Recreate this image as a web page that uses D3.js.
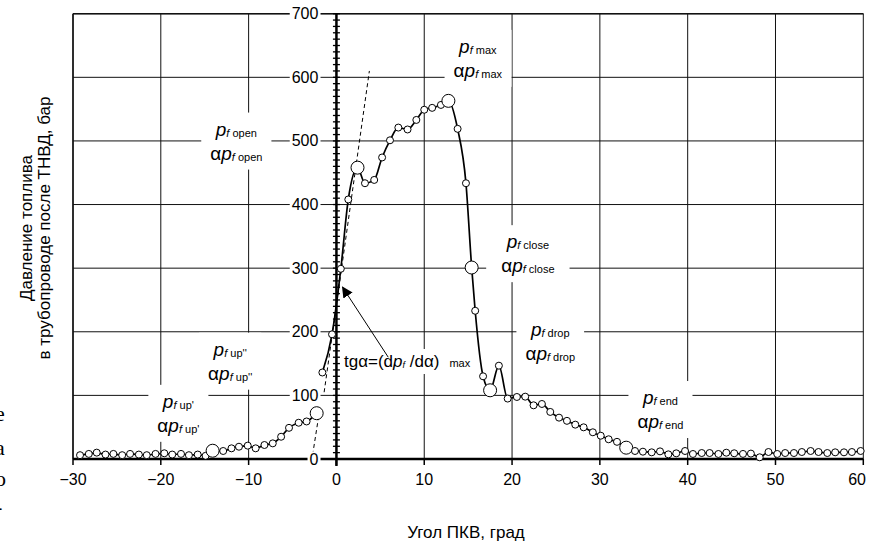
<!DOCTYPE html>
<html>
<head>
<meta charset="utf-8">
<script src="https://cdn.jsdelivr.net/npm/d3@7"></script>
<style>
  body { margin: 0; background: #fff; }
  svg { display: block; font-family: "Liberation Sans", Arial, sans-serif; }
</style>
</head>
<body>
<svg id="chart" width="870" height="541"></svg>
<script>
// Data
//---------
var angle = [-29.2,-28.2,-27.3,-26.3,-25.4,-24.4,-23.5,-22.5,-21.6,-20.6,-19.6,-18.7,-17.7,-16.8,-15.8,-14.9,-14.1,
  -12.9,-11.95,-11.1,-10.1,-9.2,-8.2,-7.25,-6.3,-5.4,-4.3,-3.4,-2.25,
  -1.6,-0.5,0.5,1.35,2.4,3.25,4.3,5.2,6.1,7.05,8.1,9.1,10.0,10.9,11.9,12.75,13.8,14.75,15.4,15.8,16.7,17.5,18.5,19.5,
  20.55,21.5,22.45,23.4,24.35,25.35,26.25,27.2,28.15,29.2,30.1,31.0,31.95,33.0,
  34.0,34.9,35.9,36.85,37.8,38.7,39.7,40.6,41.6,42.5,43.5,44.4,45.3,46.3,47.2,48.2,49.2,50.2,51.1,52.1,53.0,54.0,
  54.9,55.9,56.8,57.8,58.7,59.7];
var pressure = [6,8,10,7,8,6,8,7,6,8,9,7,8,6,7,5,13,
  12.6,16.8,19.3,21,16.8,22,24.6,35,49,57,59,72,
  136,196,299,408,458,433.5,438.7,474,501,521,518,533,549,552,556.6,563,519,433.5,301,233,130,108,146.7,95,
  97.5,98,84.4,86.5,74,65,60,54,49.8,42,36.6,31,27,17.8,
  12.6,11.5,10.5,12,7.3,8.9,12.6,7.9,9.4,9.4,7.9,9.9,9,8,8.5,2.7,11,7.9,9.4,9.4,11,12.6,
  11,9.4,10.5,10.5,11,12.6];
// characteristic points (big circles)
var keyAngles = [-14.1, -2.25, 2.4, 12.75, 15.4, 17.5, 33.0];
var keyNames = ["up'", "up''", "open", "max", "close", "drop", "end"];
// the record is broken between these two angles
var gapAfter = -2.25;
// tangent lines (dashed)
var tangentMax = [[-1.4, 105], [3.75, 610]];
var tangentUp = [[-1.9, 78], [-2.65, 12]];

var xTicks = [-30,-20,-10,0,10,20,30,40,50,60];
var yTicks = [0,100,200,300,400,500,600,700];

// Setup
//---------
var svg = d3.select("#chart");
var x = d3.scaleLinear().domain([-30, 60]).range([73, 863.3]);
var y = d3.scaleLinear().domain([0, 700]).range([459, 13.7]);

var points = angle.map(function(a, i) { return {a: a, p: pressure[i], key: keyAngles.indexOf(a) >= 0}; });

// Grid
//---------
var grid = svg.append("g").attr("stroke", "#111").attr("stroke-width", 1);
grid.selectAll("line.v").data(xTicks.filter(function(t) { return t != 0; }))
  .enter().append("line")
  .attr("x1", function(d) { return x(d); }).attr("x2", function(d) { return x(d); })
  .attr("y1", y(700)).attr("y2", y(0));
grid.selectAll("line.h").data(yTicks.filter(function(t) { return t != 0; }))
  .enter().append("line")
  .attr("x1", x(-30)).attr("x2", x(60))
  .attr("y1", function(d) { return y(d); }).attr("y2", function(d) { return y(d); });
grid.append("line").attr("x1", x(-30)).attr("x2", x(-30)).attr("y1", y(700)).attr("y2", y(0)).attr("stroke-width", 1.5);
grid.append("line").attr("x1", x(-30)).attr("x2", x(60)).attr("y1", y(700)).attr("y2", y(700)).attr("stroke-width", 1.4);

// X axis (at p = 0)
//---------
svg.append("line").attr("x1", x(-30)).attr("x2", x(60)).attr("y1", y(0)).attr("y2", y(0))
  .attr("stroke", "#000").attr("stroke-width", 2.5);
svg.append("g").selectAll("line").data(xTicks).enter().append("line")
  .attr("x1", function(d) { return x(d); }).attr("x2", function(d) { return x(d); })
  .attr("y1", y(0)).attr("y2", y(0) + 6)
  .attr("stroke", "#000").attr("stroke-width", 1.5);
svg.append("g").selectAll("text").data(xTicks).enter().append("text")
  .attr("x", function(d) { return d == 60 ? 866 : x(d); }).attr("y", 485)
  .attr("text-anchor", function(d) { return d == 60 ? "end" : "middle"; }).attr("font-size", 16)
  .text(function(d) { return d3.format("d")(d); });

// Y axis (at angle = 0)
//---------
svg.append("line").attr("x1", x(0)).attr("x2", x(0)).attr("y1", y(700)).attr("y2", y(0) + 7)
  .attr("stroke", "#000").attr("stroke-width", 2.5);
svg.append("g").selectAll("line").data(d3.range(0, 701, 10)).enter().append("line")
  .attr("x1", x(0) - 3.5).attr("x2", x(0) + 3.5)
  .attr("y1", function(d) { return y(d); }).attr("y2", function(d) { return y(d); })
  .attr("stroke", "#000").attr("stroke-width", 1.3);

var yLab = svg.append("g");
yTicks.forEach(function(t) {
  var g = yLab.append("g");
  var tx = g.append("text").attr("x", x(0) - 18).attr("y", y(t) + 5.5)
    .attr("text-anchor", "end").attr("font-size", 16).text(t);
  var b = tx.node().getBBox();
  g.insert("rect", "text").attr("x", b.x - 2).attr("y", b.y).attr("width", b.width + 4).attr("height", b.height)
    .attr("fill", "#fff");
});

// Tangent lines
//---------
[tangentMax, tangentUp].forEach(function(seg) {
  svg.append("line")
    .attr("x1", x(seg[0][0])).attr("y1", y(seg[0][1]))
    .attr("x2", x(seg[1][0])).attr("y2", y(seg[1][1]))
    .attr("stroke", "#000").attr("stroke-width", 1).attr("stroke-dasharray", "4,3");
});

// Curve
//---------
var line = d3.line().curve(d3.curveMonotoneX)
  .x(function(d) { return x(d.a); }).y(function(d) { return y(d.p); });
var segA = points.filter(function(d) { return d.a <= gapAfter; });
var segB = points.filter(function(d) { return d.a > gapAfter; });
[segA, segB].forEach(function(s) {
  svg.append("path").datum(s).attr("d", line)
    .attr("fill", "none").attr("stroke", "#000").attr("stroke-width", 1.7);
});
svg.append("g").selectAll("circle").data(points).enter().append("circle")
  .attr("cx", function(d) { return x(d.a); }).attr("cy", function(d) { return y(d.p); })
  .attr("r", function(d) { return d.key ? 6.5 : 3.5; })
  .attr("fill", "#fff").attr("stroke", "#000").attr("stroke-width", 1);

// Point labels
//---------
// label centre, in data units
var labelAt = {
  "up'":  [-18.0, 71],
  "up''": [-12.1, 153],
  "open": [-11.4, 499],
  "max":  [16.1, 629],
  "close":[21.8, 322],
  "drop": [24.35, 184],
  "end":  [36.9, 77]
};
var padX = {"close": 15};
keyNames.forEach(function(name) {
  var c = labelAt[name];
  var cx = x(c[0]), cy = y(c[1]);
  var g = svg.append("g");
  var t1 = g.append("text").attr("x", cx).attr("y", cy - 6).attr("text-anchor", "middle");
  t1.append("tspan").attr("font-size", 19).attr("font-style", "italic").text("p");
  t1.append("tspan").attr("font-size", 11).attr("font-style", "italic").attr("dy", 1).text("f");
  t1.append("tspan").attr("font-size", 11).text(" " + name);
  var t2 = g.append("text").attr("x", cx).attr("y", cy + 18).attr("text-anchor", "middle");
  t2.append("tspan").attr("font-size", 19).text("α");
  t2.append("tspan").attr("font-size", 19).attr("font-style", "italic").text("p");
  t2.append("tspan").attr("font-size", 11).attr("font-style", "italic").attr("dy", 1).text("f");
  t2.append("tspan").attr("font-size", 11).text(" " + name);
  var b = g.node().getBBox();
  var px = padX[name] || 9;
  g.insert("rect", "text").attr("x", b.x - px).attr("y", b.y - 6)
    .attr("width", b.width + 2 * px).attr("height", b.height + 12).attr("fill", "#fff");
});

// tg alpha note with arrow
//---------
svg.append("defs").append("marker").attr("id", "arrow")
  .attr("viewBox", "0 0 10 10").attr("refX", 9).attr("refY", 5)
  .attr("markerWidth", 11).attr("markerHeight", 11).attr("markerUnits", "userSpaceOnUse")
  .attr("orient", "auto")
  .append("path").attr("d", "M0,0 L10,5 L0,10 Z").attr("fill", "#000");

var note = svg.append("g");
var nt = note.append("text").attr("x", 344).attr("y", 367).attr("font-size", 17);
nt.append("tspan").text("tgα=(d");
nt.append("tspan").attr("font-style", "italic").text("p");
nt.append("tspan").attr("font-style", "italic").attr("font-size", 9).attr("dy", 1).text("f");
nt.append("tspan").attr("dy", -1).text(" /dα)");
nt.append("tspan").attr("font-size", 11).attr("dx", 10).text("max");
var nb = note.node().getBBox();
note.insert("rect", "text").attr("x", nb.x - 3).attr("y", nb.y - 3)
  .attr("width", nb.width + 6).attr("height", nb.height + 6).attr("fill", "#fff");
svg.append("line")
  .attr("x1", x(5.9)).attr("y1", y(160)).attr("x2", x(0.7)).attr("y2", y(270))
  .attr("stroke", "#000").attr("stroke-width", 1).attr("marker-end", "url(#arrow)");

// Axis titles
//---------
svg.append("text").attr("x", 466).attr("y", 538).attr("text-anchor", "middle")
  .attr("font-size", 17).text("Угол ПКВ, град");
svg.append("text").attr("transform", "translate(32,228) rotate(-90)").attr("text-anchor", "middle")
  .attr("font-size", 17).text("Давление топлива");
svg.append("text").attr("transform", "translate(50,228) rotate(-90)").attr("text-anchor", "middle")
  .attr("font-size", 17).text("в трубопроводе после ТНВД, бар");

// cut-off text at the left edge
var stray = [["е", 421], ["а", 455], ["о", 486], ["-", 514]];
svg.append("g").selectAll("text").data(stray).enter().append("text")
  .attr("x", -5).attr("y", function(d) { return d[1]; })
  .attr("font-family", "Liberation Serif, serif").attr("font-size", 22)
  .text(function(d) { return d[0]; });
</script>
</body>
</html>
